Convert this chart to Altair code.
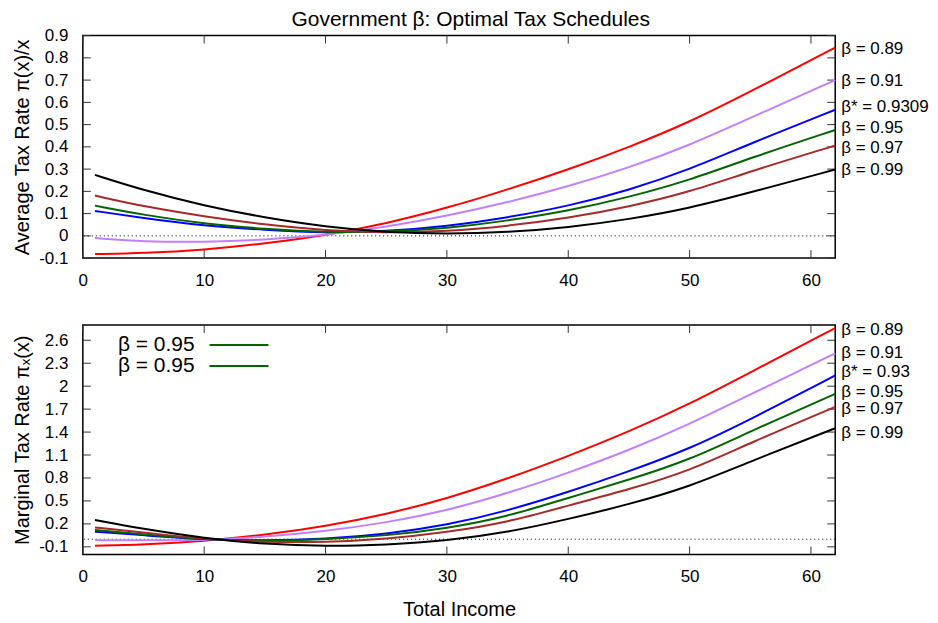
import altair as alt
import pandas as pd

FONT = "Liberation Sans"

x_vals = [1, 5, 10, 15, 20, 25, 30, 35, 40, 45, 50, 55, 62]
betas = ["0.89", "0.91", "0.9309", "0.95", "0.97", "0.99"]
colors = ["#ff0000", "#c080ff", "#0000ff", "#006400", "#a52a2a", "#000000"]

avg_labels = ["β = 0.89", "β = 0.91", "β* = 0.9309", "β = 0.95", "β = 0.97", "β = 0.99"]
mtr_labels = ["β = 0.89", "β = 0.91", "β* = 0.93", "β = 0.95", "β = 0.97", "β = 0.99"]

# Average tax rate pi(x)/x
avg_089 = [-0.082, -0.078, -0.063, -0.035, 0.003, 0.055, 0.125, 0.208, 0.298, 0.398, 0.511, 0.648, 0.846]
avg_091 = [-0.010, -0.026, -0.028, -0.018, 0.003, 0.040, 0.090, 0.150, 0.222, 0.306, 0.407, 0.530, 0.700]
avg_093 = [0.112, 0.080, 0.045, 0.027, 0.013, 0.020, 0.043, 0.082, 0.134, 0.205, 0.298, 0.415, 0.567]
avg_095 = [0.136, 0.094, 0.054, 0.031, 0.016, 0.018, 0.034, 0.068, 0.112, 0.174, 0.250, 0.350, 0.476]
avg_097 = [0.181, 0.132, 0.087, 0.050, 0.024, 0.014, 0.020, 0.044, 0.080, 0.131, 0.197, 0.290, 0.406]
avg_099 = [0.274, 0.205, 0.135, 0.082, 0.041, 0.016, 0.008, 0.016, 0.038, 0.074, 0.124, 0.195, 0.298]

# Marginal tax rate pi_x(x)
mtr_089 = [-0.087, -0.070, -0.025, 0.055, 0.170, 0.325, 0.530, 0.790, 1.085, 1.405, 1.766, 2.180, 2.760]
mtr_091 = [-0.012, -0.015, -0.015, 0.030, 0.105, 0.215, 0.372, 0.600, 0.866, 1.160, 1.504, 1.890, 2.430]
mtr_093 = [0.097, 0.052, -0.005, -0.022, 0.002, 0.066, 0.184, 0.370, 0.615, 0.885, 1.180, 1.565, 2.140]
mtr_095 = [0.119, 0.066, -0.008, -0.025, 0.001, 0.044, 0.141, 0.295, 0.540, 0.775, 1.035, 1.410, 1.900]
mtr_097 = [0.154, 0.089, 0.000, -0.038, -0.042, 0.001, 0.089, 0.220, 0.440, 0.650, 0.892, 1.260, 1.730]
mtr_099 = [0.250, 0.132, 0.012, -0.065, -0.095, -0.074, -0.021, 0.089, 0.262, 0.455, 0.685, 1.017, 1.450]

# where the end labels sit (data units)
avg_label_y = [0.840, 0.696, 0.580, 0.485, 0.395, 0.296]
mtr_label_y = [2.74, 2.44, 2.186, 1.93, 1.696, 1.39]

x_ticks = [0, 10, 20, 30, 40, 50, 60]
avg_ticks = [-0.1, 0.0, 0.1, 0.2, 0.3, 0.4, 0.5, 0.6, 0.7, 0.8, 0.9]
mtr_ticks = [-0.1, 0.2, 0.5, 0.8, 1.1, 1.4, 1.7, 2.0, 2.3, 2.6]

legend_labels = ["β = 0.95", "β = 0.95"]
legend_color = "#006400"

W = 754


def long_df(series):
    rows = []
    for b, vals in zip(betas, series):
        for x, v in zip(x_vals, vals):
            rows.append({"x": x, "v": v, "beta": b})
    return pd.DataFrame(rows)


def panel(series, labels, label_y, ydom, yticks, ytitle, h, xtitle, legend=False):
    df = long_df(series)
    xs = alt.Scale(domain=[0, 62], nice=False, zero=False)
    ys = alt.Scale(domain=ydom, nice=False, zero=False)
    xaxis = alt.Axis(values=x_ticks, grid=False, domain=False, ticks=False,
                     labelPadding=14, labelFontSize=17, labelColor="black",
                     titleFontSize=20, titleFontWeight="normal", titlePadding=15,
                     titleColor="black", labelFlush=False)
    yaxis = alt.Axis(values=yticks, grid=False, domain=False, ticks=False,
                     labelPadding=15, labelFontSize=17, labelColor="black",
                     labelExpr="'' + datum.value",
                     titleFontSize=20, titleFontWeight="normal", titlePadding=6,
                     titleColor="black", labelFlush=False)
    X = lambda f: alt.X(f, scale=xs, axis=xaxis, title=xtitle)
    Y = lambda f: alt.Y(f, scale=ys, axis=yaxis, title=ytitle)
    cs = alt.Scale(domain=betas, range=colors)

    zero = alt.Chart(pd.DataFrame({"v": [0.0]})).mark_rule(
        color="black", strokeDash=[1, 3], strokeWidth=1).encode(y=Y("v:Q"))

    xt = pd.DataFrame({"t": x_ticks})
    yt = pd.DataFrame({"t": yticks})
    tk = dict(color="#333333", strokeWidth=1)
    t_top = alt.Chart(xt).mark_rule(**tk).encode(x=X("t:Q"), y=alt.value(0), y2=alt.value(8))
    t_bot = alt.Chart(xt).mark_rule(**tk).encode(x=X("t:Q"), y=alt.value(h), y2=alt.value(h - 8))
    t_left = alt.Chart(yt).mark_rule(**tk).encode(y=Y("t:Q"), x=alt.value(0), x2=alt.value(8))
    t_right = alt.Chart(yt).mark_rule(**tk).encode(y=Y("t:Q"), x=alt.value(W), x2=alt.value(W - 8))

    lines = alt.Chart(df).mark_line(strokeWidth=2, interpolate="basis").encode(
        x=X("x:Q"), y=Y("v:Q"),
        color=alt.Color("beta:N", scale=cs, legend=None),
        order="x:Q",
    )

    ldf = pd.DataFrame({"label": labels, "v": label_y, "x": [62] * len(labels)})
    texts = alt.Chart(ldf).mark_text(align="left", baseline="middle", dx=6,
                                     fontSize=17, font=FONT, color="black").encode(
        x=X("x:Q"), y=Y("v:Q"), text="label:N")

    layers = [zero, t_top, t_bot, t_left, t_right, lines, texts]

    if legend:
        for i, lab in enumerate(legend_labels):
            yy = 20 + 21 * i
            d = pd.DataFrame({"label": [lab]})
            layers.append(alt.Chart(d).mark_text(align="right", baseline="middle",
                                                 fontSize=21, font=FONT, color="black").encode(
                x=alt.value(112), y=alt.value(yy), text="label:N"))
            layers.append(alt.Chart(d).mark_rule(color=legend_color, strokeWidth=2).encode(
                x=alt.value(127), x2=alt.value(186), y=alt.value(yy)))

    return alt.layer(*layers).properties(width=W, height=h)


top = panel([avg_089, avg_091, avg_093, avg_095, avg_097, avg_099], avg_labels, avg_label_y,
            [-0.1, 0.9], avg_ticks, "Average Tax Rate π(x)/x", 223, "")
bottom = panel([mtr_089, mtr_091, mtr_093, mtr_095, mtr_097, mtr_099], mtr_labels, mtr_label_y,
               [-0.2, 2.8], mtr_ticks, "Marginal Tax Rate πₓ(x)", 230, "Total Income", legend=True)

chart = alt.vconcat(top, bottom, spacing=67, bounds="flush").properties(
    title=alt.TitleParams("Government β: Optimal Tax Schedules", fontSize=21, anchor="middle",
                          fontWeight="normal", font=FONT, color="black", offset=-4),
    padding={"left": 3, "top": 0, "right": 0, "bottom": 0},
).configure(font=FONT).configure_view(stroke="black", strokeWidth=1.5)

chart.save("out.html", embed_options={"renderer": "svg", "actions": False})
